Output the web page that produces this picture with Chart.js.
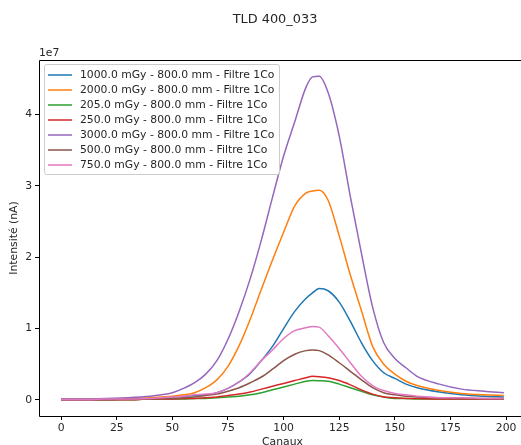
<!DOCTYPE html>
<html>
<head>
<meta charset="utf-8">
<script src="https://cdn.jsdelivr.net/npm/chart.js@4"></script>
<style>
html,body{margin:0;padding:0;background:#fff;overflow:hidden;}
#wrap{width:530px;height:445px;}
</style>
</head>
<body>
<div id="wrap"><canvas id="c" width="530" height="445"></canvas></div>
<script>
// Channels (x values) at which the curves were read
const channels = [0,10,20,30,40,45,50,55,60,65,70,75,80,85,90,95,100,105,110,113,116,120,125,130,135,140,145,150,155,160,170,180,190,199];
// Intensities in units of 1e7 nA
const s1000 = [0,0,0.01,0.01,0.02,0.03,0.04,0.05,0.06,0.07,0.10,0.16,0.25,0.37,0.55,0.75,1.00,1.24,1.42,1.50,1.56,1.53,1.37,1.10,0.80,0.55,0.38,0.30,0.22,0.17,0.11,0.07,0.05,0.04];
const s2000 = [0.01,0.01,0.01,0.02,0.03,0.04,0.05,0.07,0.10,0.17,0.28,0.47,0.76,1.13,1.55,1.96,2.35,2.72,2.90,2.93,2.94,2.80,2.30,1.75,1.25,0.75,0.50,0.36,0.26,0.20,0.13,0.09,0.07,0.06];
const s205  = [0,0,0,0,0.01,0.01,0.01,0.01,0.02,0.02,0.03,0.04,0.05,0.07,0.10,0.14,0.18,0.22,0.26,0.27,0.268,0.26,0.22,0.17,0.12,0.07,0.04,0.02,0.02,0.01,0.01,0.01,0.01,0.01];
const s250  = [0,0,0,0,0.01,0.01,0.01,0.02,0.02,0.03,0.04,0.06,0.08,0.11,0.15,0.19,0.23,0.27,0.31,0.33,0.325,0.31,0.27,0.21,0.14,0.08,0.04,0.03,0.02,0.02,0.01,0.01,0.01,0.01];
const s3000 = [0.01,0.01,0.02,0.03,0.05,0.07,0.10,0.16,0.24,0.36,0.55,0.85,1.24,1.70,2.24,2.84,3.42,3.90,4.38,4.53,4.54,4.31,3.70,2.85,2.05,1.30,0.80,0.58,0.45,0.33,0.22,0.15,0.12,0.10];
const s500  = [0,0,0,0.01,0.01,0.02,0.02,0.03,0.04,0.06,0.08,0.12,0.17,0.24,0.32,0.43,0.55,0.64,0.69,0.70,0.69,0.63,0.52,0.40,0.28,0.17,0.10,0.07,0.05,0.04,0.03,0.02,0.02,0.02];
const s750  = [0,0,0.01,0.01,0.02,0.03,0.04,0.05,0.07,0.08,0.10,0.16,0.25,0.38,0.55,0.70,0.86,0.97,1.01,1.03,1.02,0.90,0.72,0.52,0.33,0.20,0.13,0.09,0.07,0.05,0.03,0.03,0.02,0.02];

const seriesLabels = [
  "1000.0 mGy - 800.0 mm - Filtre 1Co",
  "2000.0 mGy - 800.0 mm - Filtre 1Co",
  "205.0 mGy - 800.0 mm - Filtre 1Co",
  "250.0 mGy - 800.0 mm - Filtre 1Co",
  "3000.0 mGy - 800.0 mm - Filtre 1Co",
  "500.0 mGy - 800.0 mm - Filtre 1Co",
  "750.0 mGy - 800.0 mm - Filtre 1Co"
];
const seriesValues = [s1000, s2000, s205, s250, s3000, s500, s750];
const xTicks = [0,25,50,75,100,125,150,175,200];
const yTicks = [0,1,2,3,4];
const title = "TLD 400_033";
const xTitle = "Canaux";
const yTitle = "Intensité (nA)";
const yExponent = "1e7";

const colors = ["#1f77b4","#ff7f0e","#2ca02c","#d62728","#9467bd","#8c564b","#e377c2"];
const FONT = "DejaVu Sans";
const TXT = "#262626";
const FS = 10.8;

const datasets = seriesValues.map((vals, i) => ({
  label: seriesLabels[i],
  data: channels.map((c, j) => ({x: c, y: vals[j]})),
  borderColor: colors[i],
  backgroundColor: colors[i],
  borderWidth: 1.5,
  pointRadius: 0,
  fill: false,
  cubicInterpolationMode: 'monotone',
  order: seriesValues.length - i
}));

const allY = seriesValues.flat();
const yMaxD = Math.max(...allY), yMinD = Math.min(...allY);
const yPad = (yMaxD - yMinD) * 0.05;
const xPad = (channels[channels.length-1] - channels[0]) * 0.05;

const decor = {
  id: 'decor',
  afterDraw(chart) {
    const ctx = chart.ctx;
    const a = chart.chartArea;
    ctx.save();
    ctx.strokeStyle = "#000";
    ctx.lineWidth = 1;
    ctx.beginPath();
    ctx.moveTo(a.left + 0.5, a.bottom + 0.5);
    ctx.lineTo(a.left + 0.5, a.top + 0.5);
    ctx.lineTo(a.right + 0.5, a.top + 0.5);
    ctx.lineTo(a.right + 0.5, a.bottom + 0.5);
    ctx.lineTo(a.left + 0.5, a.bottom + 0.5);
    ctx.stroke();
    ctx.fillStyle = TXT;
    ctx.font = "12.9px '" + FONT + "'";
    ctx.textAlign = "center";
    ctx.textBaseline = "middle";
    ctx.fillText(title, 275, 20);
    ctx.font = FS + "px '" + FONT + "'";
    ctx.textAlign = "left";
    ctx.textBaseline = "bottom";
    ctx.fillText(yExponent, a.left, a.top - 1);
    ctx.textAlign = "center";
    ctx.textBaseline = "middle";
    ctx.fillText(xTitle, (a.left + a.right) / 2, 442);
    ctx.save();
    ctx.translate(14, (a.top + a.bottom) / 2);
    ctx.rotate(-Math.PI / 2);
    ctx.fillText(yTitle, 0, 0);
    ctx.restore();
    const lx = 44.5, ly = 64.5, lw = 235, lh = 110;
    ctx.fillStyle = "rgba(255,255,255,0.8)";
    ctx.strokeStyle = "#cccccc";
    ctx.lineWidth = 1;
    ctx.beginPath();
    if (ctx.roundRect) ctx.roundRect(lx, ly, lw, lh, 2); else ctx.rect(lx, ly, lw, lh);
    ctx.fill();
    ctx.stroke();
    ctx.font = FS + "px '" + FONT + "'";
    ctx.textAlign = "left";
    ctx.textBaseline = "middle";
    seriesLabels.forEach((lab, i) => {
      const y = 75 + i * 15;
      ctx.strokeStyle = colors[i];
      ctx.lineWidth = 1.5;
      ctx.beginPath();
      ctx.moveTo(48, y);
      ctx.lineTo(72, y);
      ctx.stroke();
      ctx.fillStyle = TXT;
      ctx.fillText(lab, 80, y + 0.5);
    });
    ctx.restore();
  }
};

new Chart(document.getElementById('c'), {
  type: 'line',
  data: { datasets },
  options: {
    responsive: false,
    animation: false,
    events: [],
    layout: { padding: { left: 0, top: 60, right: 4, bottom: 0 } },
    plugins: { legend: { display: false }, title: { display: false }, tooltip: { enabled: false } },
    scales: {
      x: {
        type: 'linear',
        min: channels[0] - xPad,
        max: channels[channels.length-1] + xPad,
        afterBuildTicks: (s) => { s.ticks = xTicks.map(v => ({value: v})); },
        afterFit: (s) => { s.height = 29; },
        grid: { display: true, drawOnChartArea: false, drawTicks: true, tickLength: 4, color: "#000", tickWidth: 1 },
        border: { display: false },
        ticks: { color: TXT, font: { family: FONT, size: FS }, padding: 2, maxRotation: 0, autoSkip: false }
      },
      y: {
        type: 'linear',
        min: yMinD - yPad,
        max: yMaxD + yPad,
        afterBuildTicks: (s) => { s.ticks = yTicks.map(v => ({value: v})); },
        afterFit: (s) => { s.width = 39; },
        grid: { display: true, drawOnChartArea: false, drawTicks: true, tickLength: 4, color: "#000", tickWidth: 1 },
        border: { display: false },
        ticks: { color: TXT, font: { family: FONT, size: FS }, padding: 3, autoSkip: false, callback: (v) => String(v) }
      }
    }
  },
  plugins: [decor]
});
</script>
</body>
</html>
